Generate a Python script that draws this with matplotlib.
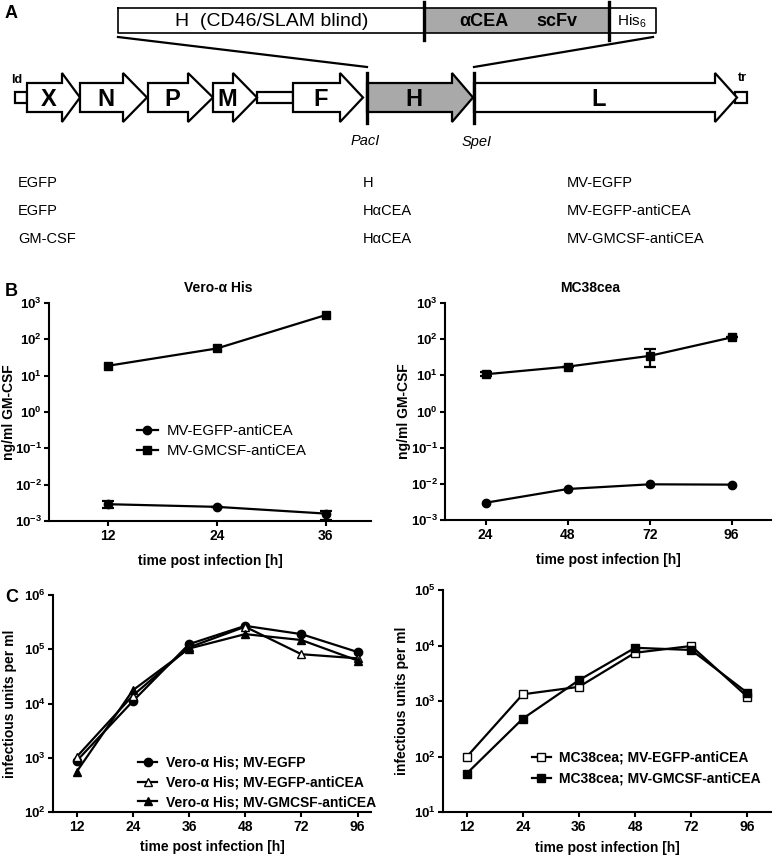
import matplotlib
matplotlib.use('Agg')
import matplotlib.pyplot as plt
from matplotlib.patches import Polygon, Rectangle

# ---- data ----
# panel B: ng/ml GM-CSF
b_vero_hours = [12, 24, 36]
b_vero_egfp = [0.0029, 0.00245, 0.0016]
b_vero_egfp_lo = [0.00223, 0.00245, 0.00107]
b_vero_egfp_hi = [0.0036, 0.00245, 0.0019]
b_vero_gmcsf = [18.7, 56, 465]

b_mc_hours = [24, 48, 72, 96]
b_mc_egfp = [0.003, 0.0072, 0.0097, 0.0095]
b_mc_gmcsf = [10.7, 17.4, 34.5, 112]
b_mc_gmcsf_lo = [9.3, 17.4, 16.6, 112]
b_mc_gmcsf_hi = [12.6, 17.4, 54, 112]

# panel C: infectious units per ml
c_hours = ['12', '24', '36', '48', '72', '96']
c_vero_egfp = [870, 11000, 124000, 270000, 190000, 89000]
c_vero_egfp_anti = [1035, 14000, 108000, 260000, 81000, 68000]
c_vero_gmcsf = [550, 17500, 103000, 190000, 148000, 62000]
c_mc_egfp_anti = [98, 1320, 1800, 7400, 9800, 1190]
c_mc_gmcsf = [49, 480, 2370, 9100, 8300, 1400]

# panel A table
col_transgene = ['EGFP', 'EGFP', 'GM-CSF']
col_h = ['H', 'HαCEA', 'HαCEA']
col_virus = ['MV-EGFP', 'MV-EGFP-antiCEA', 'MV-GMCSF-antiCEA']

genes = ['X', 'N', 'P', 'M', 'F', 'H', 'L']

plt.rcParams['font.family'] = 'Liberation Sans'
plt.rcParams['mathtext.fontset'] = 'custom'
plt.rcParams['mathtext.rm'] = 'Liberation Sans'
plt.rcParams['mathtext.bf'] = 'Liberation Sans:bold'

fig = plt.figure(figsize=(7.77, 8.56), dpi=100)

# ---- panel A drawn in pixel coordinates ----
ax0 = fig.add_axes([0, 0, 1, 1])
ax0.set_xlim(0, 777)
ax0.set_ylim(856, 0)
ax0.axis('off')

lw = 1.6
# top construct bar
ax0.add_patch(Rectangle((118, 8), 538, 25, fc='white', ec='none'))
ax0.add_patch(Rectangle((424, 8), 185, 25, fc='#a9a9a9', ec='none'))
ax0.plot([118, 656, 656, 118, 118], [8, 8, 33, 33, 8], color='black', lw=1.2)
for x in (424, 609):
    ax0.plot([x, x], [2, 40], color='black', lw=2.4)
ax0.text(272, 21, 'H  (CD46/SLAM blind)', ha='center', va='center', fontsize=14)
ax0.text(484, 21, 'αCEA', ha='center', va='center', fontsize=13, fontweight='bold')
ax0.text(557, 21, 'scFv', ha='center', va='center', fontsize=13, fontweight='bold')
ax0.text(632, 21, r'His$_\mathrm{6}$', ha='center', va='center', fontsize=11)
ax0.plot([118, 367], [37, 67], color='black', lw=lw)
ax0.plot([653, 474], [37, 67], color='black', lw=lw)

# genome
yc, hb, hh = 97.5, 14.5, 24.5
starts = [27, 80, 148, 213, 293, 367, 474]
bases = [62, 123, 188, 233, 340, 452, 715]
tips = [80, 147, 213, 257, 363, 473, 737]
ax0.add_patch(Rectangle((15, 92), 12, 11, fc='white', ec='black', lw=lw))
ax0.add_patch(Rectangle((735, 92), 12, 11, fc='white', ec='black', lw=lw))
ax0.add_patch(Rectangle((257, 92), 36, 11, fc='white', ec='black', lw=lw))
for g, x0, xb, xt in zip(genes, starts, bases, tips):
    pts = [(x0, yc - hb), (xb, yc - hb), (xb, yc - hh), (xt, yc),
           (xb, yc + hh), (xb, yc + hb), (x0, yc + hb)]
    fc = '#a9a9a9' if g == 'H' else 'white'
    ax0.add_patch(Polygon(pts, closed=True, fc=fc, ec='black', lw=lw, joinstyle='miter'))
    ax0.text((x0 + xb) / 2 + 4, yc + 2, g, ha='center', va='center', fontsize=17, fontweight='bold')
for x in (367, 474):
    ax0.plot([x, x], [73, 123], color='black', lw=2.4)
ax0.text(17, 80, 'ld', ha='center', va='center', fontsize=9, fontweight='bold')
ax0.text(742, 78, 'tr', ha='center', va='center', fontsize=9, fontweight='bold')
ax0.text(365, 141, 'PacI', ha='center', va='center', fontsize=10.5, style='italic')
ax0.text(477, 142, 'SpeI', ha='center', va='center', fontsize=10.5, style='italic')

for i, (a, b, c) in enumerate(zip(col_transgene, col_h, col_virus)):
    y = 183 + 28 * i
    ax0.text(18, y, a, ha='left', va='center', fontsize=10.5)
    ax0.text(363, y, b, ha='left', va='center', fontsize=10.5)
    ax0.text(567, y, c, ha='left', va='center', fontsize=10.5)

ax0.text(5, 13, 'A', ha='left', va='center', fontsize=13, fontweight='bold')
ax0.text(5, 291, 'B', ha='left', va='center', fontsize=13, fontweight='bold')
ax0.text(5, 597, 'C', ha='left', va='center', fontsize=13, fontweight='bold')
ax0.text(218, 288, 'Vero-α His', ha='center', va='center', fontsize=10, fontweight='bold')
ax0.text(590, 288, 'MC38cea', ha='center', va='center', fontsize=10, fontweight='bold')


def px_axes(x0, x1, y0, y1):
    return fig.add_axes([x0 / 777, 1 - y1 / 856, (x1 - x0) / 777, (y1 - y0) / 856])


def style(ax, lo, hi):
    ax.set_yscale('log')
    ax.set_ylim(10.0 ** lo, 10.0 ** hi)
    exps = list(range(lo, hi + 1))
    ax.set_yticks([10.0 ** e for e in exps])
    ax.set_yticklabels([r'$\mathbf{10^{%d}}$' % e for e in exps])
    ax.yaxis.set_minor_locator(matplotlib.ticker.NullLocator())
    for s in ('top', 'right'):
        ax.spines[s].set_visible(False)
    for s in ('left', 'bottom'):
        ax.spines[s].set_linewidth(1.5)
    ax.tick_params(direction='out', length=3.5, width=1.5, pad=2, labelsize=10)
    ax.tick_params(axis='y', labelsize=9.5, pad=1.5)
    for lab in ax.get_xticklabels():
        lab.set_fontweight('bold')
    ax.patch.set_visible(False)


mk = dict(color='black', lw=1.6, markersize=6)
eb = dict(fmt='none', ecolor='black', capsize=4, capthick=1.6, elinewidth=1.6)
leg_kw = dict(frameon=False, handlelength=1.4, handletextpad=0.6, borderpad=0,
              borderaxespad=0, loc='upper left')

# B left
ax = px_axes(49, 371, 303, 521)
ax.plot(b_vero_hours, b_vero_egfp, marker='o', label='MV-EGFP-antiCEA', **mk)
ax.errorbar(b_vero_hours, b_vero_egfp,
            yerr=[[v - l for v, l in zip(b_vero_egfp, b_vero_egfp_lo)],
                  [h - v for v, h in zip(b_vero_egfp, b_vero_egfp_hi)]], **eb)
ax.plot(b_vero_hours, b_vero_gmcsf, marker='s', label='MV-GMCSF-antiCEA', **mk)
ax.set_xlim(5.5, 41)
ax.set_xticks(b_vero_hours)
style(ax, -3, 3)
ax.set_ylabel('ng/ml GM-CSF', fontsize=10, fontweight='bold')
ax.yaxis.set_label_coords(-0.103, 0.5)
ax.set_xlabel('time post infection [h]', fontsize=10, fontweight='bold')
ax.xaxis.set_label_coords(0.5, -0.15)
ax.legend(fontsize=10.7, labelspacing=0.4, bbox_to_anchor=(0.273, 0.445), **leg_kw)

# B right
ax = px_axes(445, 771, 303, 520)
ax.plot(b_mc_hours, b_mc_egfp, marker='o', **mk)
ax.plot(b_mc_hours, b_mc_gmcsf, marker='s', **mk)
ax.errorbar(b_mc_hours, b_mc_gmcsf,
            yerr=[[v - l for v, l in zip(b_mc_gmcsf, b_mc_gmcsf_lo)],
                  [h - v for v, h in zip(b_mc_gmcsf, b_mc_gmcsf_hi)]], **eb)
ax.set_xlim(12.1, 107.5)
ax.set_xticks(b_mc_hours)
style(ax, -3, 3)
ax.set_ylabel('ng/ml GM-CSF', fontsize=10, fontweight='bold')
ax.yaxis.set_label_coords(-0.104, 0.5)
ax.set_xlabel('time post infection [h]', fontsize=10, fontweight='bold')
ax.xaxis.set_label_coords(0.5, -0.15)

# C left
ax = px_axes(53, 371, 595, 812)
ax.plot(c_hours, c_vero_egfp, marker='o', label='Vero-α His; MV-EGFP', **mk)
ax.plot(c_hours, c_vero_egfp_anti, marker='^', markerfacecolor='white',
        label='Vero-α His; MV-EGFP-antiCEA', **mk)
ax.plot(c_hours, c_vero_gmcsf, marker='^', label='Vero-α His; MV-GMCSF-antiCEA', **mk)
ax.set_xlim(-0.42, 5.24)
style(ax, 2, 6)
ax.set_ylabel('infectious units per ml', fontsize=10, fontweight='bold')
ax.yaxis.set_label_coords(-0.113, 0.5)
ax.set_xlabel('time post infection [h]', fontsize=10, fontweight='bold')
ax.xaxis.set_label_coords(0.5, -0.13)
leg = ax.legend(fontsize=10, labelspacing=0.42, bbox_to_anchor=(0.267, 0.26), **leg_kw)
for t in leg.get_texts():
    t.set_fontweight('bold')

# C right
ax = px_axes(443, 771, 590, 812)
ax.plot(c_hours, c_mc_egfp_anti, marker='s', markerfacecolor='white',
        label='MC38cea; MV-EGFP-antiCEA', **mk)
ax.plot(c_hours, c_mc_gmcsf, marker='s', label='MC38cea; MV-GMCSF-antiCEA', **mk)
ax.set_xlim(-0.42, 5.42)
style(ax, 1, 5)
ax.set_ylabel('infectious units per ml', fontsize=10, fontweight='bold')
ax.yaxis.set_label_coords(-0.105, 0.5)
ax.set_xlabel('time post infection [h]', fontsize=10, fontweight='bold')
ax.xaxis.set_label_coords(0.5, -0.13)
leg = ax.legend(fontsize=10, labelspacing=0.5, bbox_to_anchor=(0.27, 0.275), **leg_kw)
for t in leg.get_texts():
    t.set_fontweight('bold')

fig.savefig('out.png', dpi=100)
